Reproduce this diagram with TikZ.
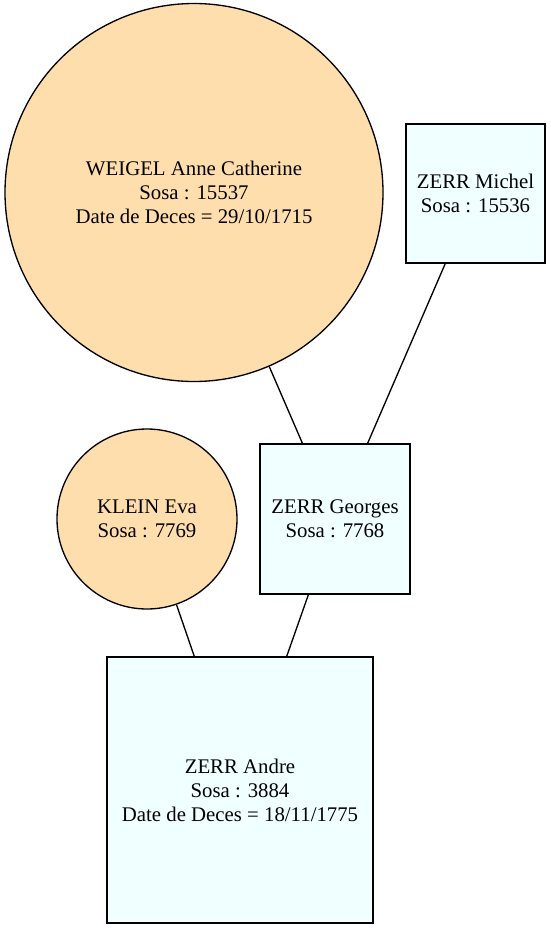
\documentclass[tikz,border=0pt]{standalone}
\usepackage{fontspec}
\setmainfont{Liberation Serif}
\usepackage{tikz}

\definecolor{navajo}{HTML}{FFDEAD}
\definecolor{azurefill}{HTML}{F0FFFF}

\tikzset{
    person/.style={draw=black, line width=1.33pt, align=center, inner sep=0pt,
        font=\fontsize{20.8}{24}\selectfont},
    female/.style={person, circle, fill=navajo},
    male/.style={person, rectangle, fill=azurefill},
    link/.style={line width=1.33pt}
}

\begin{document}
\begin{tikzpicture}[x=1pt, y=-1pt]
    \useasboundingbox (0,0) rectangle (550,930);
    % Ancestors (top row)
    \node[female, minimum size=378pt] (weigel) at (194,192.5)
        {WEIGEL Anne Catherine\\Sosa : 15537\\Date de Deces = 29/10/1715};
    \node[male, minimum size=139pt] (michel) at (475.5,193.5)
        {ZERR Michel\\Sosa : 15536};
    % Parents
    \node[female, minimum size=180pt] (eva) at (147,519)
        {KLEIN Eva\\Sosa : 7769};
    \node[male, minimum size=150pt] (georges) at (335,519)
        {ZERR Georges\\Sosa : 7768};
    % Child
    \node[male, minimum size=266pt] (andre) at (240,790)
        {ZERR Andre\\Sosa : 3884\\Date de Deces = 18/11/1775};

    % Links
    \draw[link] (weigel) -- (georges);
    \draw[link] (michel) -- (georges);
    \draw[link] (eva) -- (andre);
    \draw[link] (georges) -- (andre);
\end{tikzpicture}
\end{document}
